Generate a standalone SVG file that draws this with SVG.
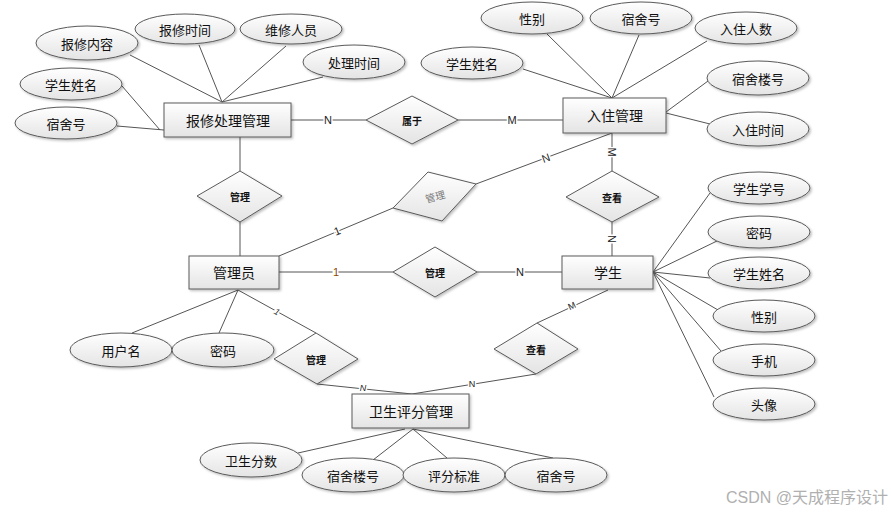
<svg xmlns="http://www.w3.org/2000/svg" width="891" height="514" viewBox="0 0 891 514">
<defs>
<linearGradient id="g" x1="0" y1="0" x2="0" y2="1">
<stop offset="0" stop-color="#ffffff"/>
<stop offset="1" stop-color="#e4e4e4"/>
</linearGradient>
<filter id="sh" x="-20%" y="-20%" width="140%" height="150%">
<feDropShadow dx="1.5" dy="1.5" stdDeviation="1" flood-color="#000" flood-opacity="0.25"/>
</filter>
<style>
.sh{fill:url(#g);stroke:#5a5a5a;stroke-width:1;filter:url(#sh)}
.ln{stroke:#555;stroke-width:1;fill:none}
.t{font-family:"Noto Sans CJK SC","Liberation Sans",sans-serif;fill:#111;text-anchor:middle;dominant-baseline:central}
.et{font-size:13px}
.rt{font-size:14px}
.dt{font-size:10px;font-weight:bold}
.lb{font-family:"Liberation Sans",sans-serif;font-size:11px;fill:#222;text-anchor:middle;dominant-baseline:central;stroke:#fff;stroke-width:3;paint-order:stroke}
</style>
</defs>
<rect width="891" height="514" fill="#fff"/>

<g id="connectors">
<line class="ln" x1="130" y1="55" x2="222" y2="102"/>
<line class="ln" x1="199" y1="45" x2="222" y2="102"/>
<line class="ln" x1="286" y1="46" x2="222" y2="102"/>
<line class="ln" x1="323" y1="77" x2="222" y2="102"/>
<line class="ln" x1="122" y1="86" x2="160" y2="130"/>
<line class="ln" x1="117" y1="126" x2="164" y2="130"/>
<line class="ln" x1="547" y1="34" x2="612" y2="98"/>
<line class="ln" x1="639" y1="35" x2="612" y2="98"/>
<line class="ln" x1="707" y1="41" x2="612" y2="98"/>
<line class="ln" x1="523" y1="69" x2="612" y2="98"/>
<line class="ln" x1="708" y1="81" x2="666" y2="112"/>
<line class="ln" x1="710" y1="124" x2="666" y2="113"/>
<line class="ln" x1="710" y1="193" x2="653" y2="272"/>
<line class="ln" x1="717" y1="241" x2="653" y2="272"/>
<line class="ln" x1="710" y1="278" x2="653" y2="272"/>
<line class="ln" x1="718" y1="310" x2="653" y2="272"/>
<line class="ln" x1="721" y1="351" x2="653" y2="272"/>
<line class="ln" x1="714" y1="397" x2="653" y2="272"/>
<line class="ln" x1="238" y1="290" x2="132" y2="333"/>
<line class="ln" x1="238" y1="290" x2="219" y2="333"/>
<line class="ln" x1="298" y1="453" x2="405" y2="429"/>
<line class="ln" x1="373" y1="460" x2="413" y2="429"/>
<line class="ln" x1="447" y1="458" x2="413" y2="429"/>
<line class="ln" x1="553" y1="458" x2="413" y2="429"/>
<line class="ln" x1="291" y1="120" x2="366" y2="120"/>
<line class="ln" x1="458" y1="120" x2="563" y2="120"/>
<line class="ln" x1="612" y1="133" x2="612" y2="171"/>
<line class="ln" x1="612" y1="222" x2="612" y2="256"/>
<line class="ln" x1="612" y1="133" x2="476" y2="184"/>
<line class="ln" x1="393" y1="208" x2="279" y2="256"/>
<line class="ln" x1="240" y1="137" x2="240" y2="171"/>
<line class="ln" x1="240" y1="222" x2="240" y2="256"/>
<line class="ln" x1="279" y1="272" x2="393" y2="272"/>
<line class="ln" x1="477" y1="272" x2="562" y2="272"/>
<line class="ln" x1="238" y1="290" x2="316" y2="333"/>
<line class="ln" x1="317" y1="384" x2="412" y2="394"/>
<line class="ln" x1="536" y1="374" x2="412" y2="394"/>
<line class="ln" x1="608" y1="290" x2="537" y2="323"/>
<text class="lb" x="328" y="120">N</text>
<text class="lb" x="512" y="120">M</text>
<text class="lb" x="612" y="152" transform="rotate(90 612 152)">M</text>
<text class="lb" x="612" y="239" transform="rotate(90 612 239)">N</text>
<text class="lb" x="546" y="158" transform="rotate(-20 546 158)">N</text>
<text class="lb" x="337" y="231" transform="rotate(-22 337 231)">1</text>
<text class="lb" x="336" y="272" style="fill:#8a4a00">1</text>
<text class="lb" x="520" y="272">N</text>
<text class="lb" x="277" y="312" style="font-size:9px;font-style:italic" transform="rotate(30 277 312)">1</text>
<text class="lb" x="363" y="388" style="font-size:9px;font-style:italic">N</text>
<text class="lb" x="472" y="384" style="font-size:9px">N</text>
<text class="lb" x="572" y="306" style="font-size:9px" transform="rotate(-25 572 306)">M</text>
</g>

<g id="baoxiu"><rect class="sh" x="164" y="103" width="127" height="34"/><text class="t rt" x="228" y="120">报修处理管理</text></g>
<g id="ruzhu"><rect class="sh" x="563" y="98" width="103" height="35"/><text class="t rt" x="615" y="115">入住管理</text></g>
<g id="guanliyuan"><rect class="sh" x="189" y="256" width="90" height="33"/><text class="t rt" x="234" y="272">管理员</text></g>
<g id="xuesheng"><rect class="sh" x="562" y="256" width="91" height="33"/><text class="t rt" x="608" y="272">学生</text></g>
<g id="weisheng"><rect class="sh" x="352" y="394" width="117" height="34"/><text class="t rt" x="411" y="411">卫生评分管理</text></g>

<g id="r-shuyu"><polygon class="sh" points="366,120 412,96 458,120 412,144"/><text class="t dt" x="412" y="120">属于</text></g>
<g id="r-guanli1"><polygon class="sh" points="197,196 240,171 282,196 240,222"/><text class="t dt" x="240" y="196">管理</text></g>
<g id="r-guanli2"><polygon class="sh" points="428,172 476,184 442,221 393,208"/><text class="t" x="435" y="196" style="font-size:10px;fill:#777" transform="rotate(-15 435 196)">管理</text></g>
<g id="r-chakan1"><polygon class="sh" points="566,197 612,171 659,197 612,222"/><text class="t dt" x="612" y="197">查看</text></g>
<g id="r-guanli3"><polygon class="sh" points="393,272 435,247 477,272 435,297"/><text class="t dt" x="435" y="272">管理</text></g>
<g id="r-guanli4"><polygon class="sh" points="274,359 316,333 358,359 317,384"/><text class="t dt" x="316" y="359">管理</text></g>
<g id="r-chakan2"><polygon class="sh" points="494,349 537,323 578,349 536,374"/><text class="t dt" x="536" y="349">查看</text></g>

<g id="a1"><ellipse class="sh" cx="87" cy="43" rx="51" ry="17"/><text class="t et" x="87" y="43">报修内容</text></g>
<g id="a2"><ellipse class="sh" cx="185" cy="29" rx="50" ry="15"/><text class="t et" x="185" y="29">报修时间</text></g>
<g id="a3"><ellipse class="sh" cx="291" cy="29" rx="51" ry="15"/><text class="t et" x="291" y="29">维修人员</text></g>
<g id="a4"><ellipse class="sh" cx="354" cy="62" rx="51" ry="17"/><text class="t et" x="354" y="62">处理时间</text></g>
<g id="a5"><ellipse class="sh" cx="71" cy="84" rx="51" ry="16"/><text class="t et" x="71" y="84">学生姓名</text></g>
<g id="a6"><ellipse class="sh" cx="66" cy="123" rx="51" ry="16"/><text class="t et" x="66" y="123">宿舍号</text></g>

<g id="b1"><ellipse class="sh" cx="532" cy="18" rx="51" ry="16"/><text class="t et" x="532" y="18">性别</text></g>
<g id="b2"><ellipse class="sh" cx="641" cy="18" rx="51" ry="16"/><text class="t et" x="641" y="18">宿舍号</text></g>
<g id="b3"><ellipse class="sh" cx="746" cy="28" rx="51" ry="16"/><text class="t et" x="746" y="28">入住人数</text></g>
<g id="b4"><ellipse class="sh" cx="472" cy="63" rx="51" ry="16"/><text class="t et" x="472" y="63">学生姓名</text></g>
<g id="b5"><ellipse class="sh" cx="758" cy="78" rx="51" ry="17"/><text class="t et" x="758" y="78">宿舍楼号</text></g>
<g id="b6"><ellipse class="sh" cx="758" cy="129" rx="51" ry="17"/><text class="t et" x="758" y="129">入住时间</text></g>

<g id="c1"><ellipse class="sh" cx="759" cy="188" rx="51" ry="16"/><text class="t et" x="759" y="188">学生学号</text></g>
<g id="c2"><ellipse class="sh" cx="759" cy="232" rx="51" ry="16"/><text class="t et" x="759" y="232">密码</text></g>
<g id="c3"><ellipse class="sh" cx="759" cy="273" rx="51" ry="16"/><text class="t et" x="759" y="273">学生姓名</text></g>
<g id="c4"><ellipse class="sh" cx="764" cy="316" rx="51" ry="16"/><text class="t et" x="764" y="316">性别</text></g>
<g id="c5"><ellipse class="sh" cx="764" cy="360" rx="51" ry="16"/><text class="t et" x="764" y="360">手机</text></g>
<g id="c6"><ellipse class="sh" cx="764" cy="404" rx="51" ry="16"/><text class="t et" x="764" y="404">头像</text></g>

<g id="d1"><ellipse class="sh" cx="121" cy="350" rx="51" ry="17"/><text class="t et" x="121" y="350">用户名</text></g>
<g id="d2"><ellipse class="sh" cx="223" cy="350" rx="51" ry="17"/><text class="t et" x="223" y="350">密码</text></g>

<g id="e1"><ellipse class="sh" cx="251" cy="460" rx="51" ry="17"/><text class="t et" x="251" y="460">卫生分数</text></g>
<g id="e2"><ellipse class="sh" cx="353" cy="475" rx="51" ry="17"/><text class="t et" x="353" y="475">宿舍楼号</text></g>
<g id="e3"><ellipse class="sh" cx="454" cy="475" rx="51" ry="17"/><text class="t et" x="454" y="475">评分标准</text></g>
<g id="e4"><ellipse class="sh" cx="556" cy="475" rx="51" ry="17"/><text class="t et" x="556" y="475">宿舍号</text></g>

<text x="888" y="497" style="font-family:'Liberation Sans','Noto Sans CJK SC',sans-serif;font-size:16px;fill:#b0b0b0;text-anchor:end;dominant-baseline:central">CSDN @天成程序设计</text>
</svg>
